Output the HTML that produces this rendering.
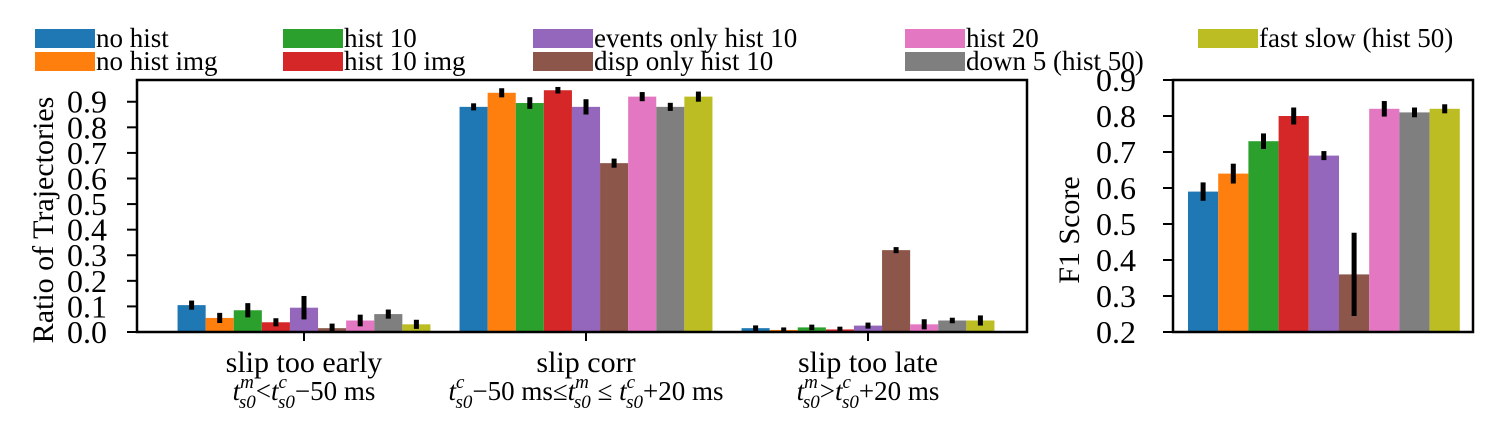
<!DOCTYPE html>
<html><head><meta charset="utf-8"><style>
body{margin:0;background:#fff;}
svg{font-family:"Liberation Serif",serif;}
</style></head><body>
<svg id="chart" width="1496" height="420" xmlns="http://www.w3.org/2000/svg"></svg>
<script>
const series = ["no hist","no hist img","hist 10","hist 10 img","events only hist 10","disp only hist 10","hist 20","down 5 (hist 50)","fast slow (hist 50)"];
const colors = ["#1f77b4","#ff7f0e","#2ca02c","#d62728","#9467bd","#8c564b","#e377c2","#7f7f7f","#bcbd22"];
const categories = ["slip too early","slip corr","slip too late"];
const earlyVals = [0.105,0.055,0.085,0.038,0.095,0.015,0.045,0.07,0.03];
const earlyErr = [0.01,0.012,0.02,0.008,0.038,0.01,0.015,0.01,0.01];
const corrVals = [0.88,0.935,0.895,0.945,0.88,0.66,0.92,0.88,0.92];
const corrErr = [0.006,0.01,0.015,0.005,0.022,0.01,0.01,0.008,0.012];
const lateVals = [0.015,0.008,0.018,0.01,0.025,0.32,0.03,0.045,0.045];
const lateErr = [0.003,0.002,0.003,0.003,0.004,0.004,0.012,0.003,0.012];
const leftTicks = [0.0,0.1,0.2,0.3,0.4,0.5,0.6,0.7,0.8,0.9];
const f1Vals = [0.59,0.64,0.73,0.80,0.69,0.36,0.82,0.81,0.82];
const f1Err = [0.02,0.022,0.016,0.018,0.007,0.11,0.016,0.008,0.007];
const rightTicks = [0.2,0.3,0.4,0.5,0.6,0.7,0.8,0.9];

const svg = document.getElementById('chart');
const NS = "http://www.w3.org/2000/svg";
function mk(tag, attrs, parent){const e=document.createElementNS(NS,tag);for(const k in attrs)e.setAttribute(k,attrs[k]);(parent||svg).appendChild(e);return e;}

// legend
const legX=[35,283,533,905,1198];
series.forEach((s,i)=>{
  const col=Math.floor(i/2), row=i%2;
  const g=mk('g',{});
  
  
  const x=legX[col], y=row?52:29;
  mk('rect',{x:x,y:y,width:60,height:19,fill:colors[i]},g);
  const t=mk('text',{x:x+61,y:y+18,'font-size':27},g);t.textContent=s;
});

// left chart
const L={x0:137,x1:1027,y0:332,y1:80,vmax:0.985};
const ly=v=>L.y0-(v/L.vmax)*(L.y0-L.y1);
const groupCenters=[304,586,868];
const bw=28.1;
const allVals=[earlyVals,corrVals,lateVals], allErr=[earlyErr,corrErr,lateErr];
categories.forEach((c,gi)=>{
  const g=mk('g',{});
  
  
  allVals[gi].forEach((v,i)=>{
    const x=groupCenters[gi]+(i-4.5)*bw;
    const r=mk('rect',{x:x,y:ly(v),width:bw,height:L.y0-ly(v),fill:colors[i]},g);
    
    
    const e=allErr[gi][i];
    mk('line',{x1:x+bw/2,x2:x+bw/2,y1:ly(v-e)+2,y2:ly(v+e)-2,stroke:'#000','stroke-width':5},g);
  });
  mk('line',{x1:groupCenters[gi],x2:groupCenters[gi],y1:L.y0,y2:L.y0+9,stroke:'#000','stroke-width':2});
  const t=mk('text',{x:groupCenters[gi],y:372,'font-size':30,'text-anchor':'middle'});t.textContent=c;
});
mk('rect',{x:L.x0,y:L.y1,width:L.x1-L.x0,height:L.y0-L.y1,fill:'none',stroke:'#000','stroke-width':2.5});
leftTicks.forEach(v=>{
  mk('line',{x1:L.x0-10,x2:L.x0,y1:ly(v),y2:ly(v),stroke:'#000','stroke-width':2});
  const t=mk('text',{x:107,y:ly(v)+11,'font-size':32,'text-anchor':'end'});t.textContent=v.toFixed(1);
});
const yt=mk('text',{x:0,y:0,'font-size':30,'text-anchor':'middle',transform:'translate(53,220) rotate(-90)'});

yt.textContent='Ratio of Trajectories';
// sublabels
const sup=(c,dx)=>'<tspan font-size="19" font-style="italic" dy="-12">'+c+'</tspan><tspan font-size="19" font-style="italic" dx="'+dx+'" dy="20">s0</tspan>';
const subs=[
 '<tspan font-style="italic">t</tspan>'+sup('m',-15)+'<tspan dy="-8">&lt;</tspan><tspan font-style="italic">t</tspan>'+sup('c',-9)+'<tspan dy="-8">−50 ms</tspan>',
 '<tspan font-style="italic">t</tspan>'+sup('c',-9)+'<tspan dy="-8">−50 ms≤</tspan><tspan font-style="italic">t</tspan>'+sup('m',-15)+'<tspan dy="-8"> ≤ </tspan><tspan font-style="italic">t</tspan>'+sup('c',-9)+'<tspan dy="-8">+20 ms</tspan>',
 '<tspan font-style="italic">t</tspan>'+sup('m',-15)+'<tspan dy="-8">&gt;</tspan><tspan font-style="italic">t</tspan>'+sup('c',-9)+'<tspan dy="-8">+20 ms</tspan>'];
subs.forEach((s,i)=>{const t=mk('text',{x:groupCenters[i],y:400,'font-size':27,'text-anchor':'middle'});t.innerHTML=s;});

// right chart
const R={x0:1173,x1:1473,y0:332,y1:80,vmin:0.2,vmax:0.9};
const ry=v=>R.y0-(v-R.vmin)/(R.vmax-R.vmin)*(R.y0-R.y1);
const rbw=30.2;
f1Vals.forEach((v,i)=>{
  const x=1188+i*rbw;
  const r=mk('rect',{x:x,y:ry(v),width:rbw,height:R.y0-ry(v),fill:colors[i]});
  
  
  mk('line',{x1:x+rbw/2,x2:x+rbw/2,y1:ry(v-f1Err[i])+2,y2:ry(v+f1Err[i])-2,stroke:'#000','stroke-width':5});
});
mk('rect',{x:R.x0,y:R.y1,width:R.x1-R.x0,height:R.y0-R.y1,fill:'none',stroke:'#000','stroke-width':2.5});
rightTicks.forEach(v=>{
  mk('line',{x1:R.x0-10,x2:R.x0,y1:ry(v),y2:ry(v),stroke:'#000','stroke-width':2});
  const t=mk('text',{x:1136,y:ry(v)+11,'font-size':32,'text-anchor':'end'});t.textContent=v.toFixed(1);
});
const rt=mk('text',{x:0,y:0,'font-size':30,'text-anchor':'middle',transform:'translate(1079,230) rotate(-90)'});

rt.textContent='F1 Score';
</script>
</body></html>
